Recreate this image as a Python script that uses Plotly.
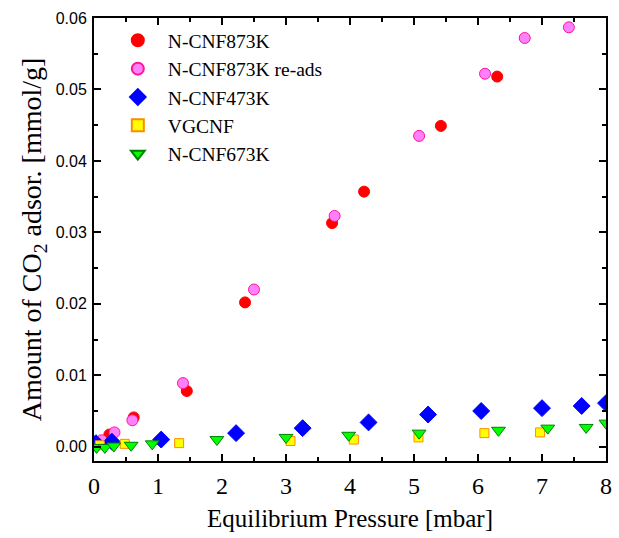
import plotly.graph_objects as go

# N-CNF873K
red_x = [0.24, 0.62, 1.45, 2.36, 3.72, 4.22, 5.42, 6.30]
red_y = [0.0017, 0.0041, 0.0078, 0.0202, 0.0313, 0.0357, 0.0449, 0.0518]
# N-CNF873K re-ads
pink_x = [0.12, 0.32, 0.60, 1.39, 2.50, 3.76, 5.08, 6.11, 6.73, 7.42]
pink_y = [0.0009, 0.0020, 0.0037, 0.0089, 0.0220, 0.0323, 0.0435, 0.0522, 0.0572, 0.0587]
# N-CNF473K
blue_x = [0.03, 0.28, 1.05, 2.22, 3.26, 4.29, 5.22, 6.05, 7.00, 7.62, 8.00]
blue_y = [0.0005, 0.0007, 0.0010, 0.0019, 0.0026, 0.0034, 0.0045, 0.0050, 0.0054, 0.0057, 0.0061]
# VGCNF
yel_x = [0.09, 0.48, 1.33, 3.07, 4.06, 5.07, 6.10, 6.97]
yel_y = [0.0002, 0.0004, 0.0005, 0.0008, 0.0010, 0.0013, 0.0019, 0.0020]
# N-CNF673K
grn_x = [0.04, 0.17, 0.31, 0.58, 0.91, 1.92, 3.00, 3.98, 5.08, 6.32, 7.09, 7.69, 8.00]
grn_y = [-0.0001, -0.0001, 0.0001, 0.0002, 0.0004, 0.0010, 0.0013, 0.0016, 0.0019, 0.0023, 0.0026, 0.0027, 0.0033]

x_ticks = [0, 1, 2, 3, 4, 5, 6, 7, 8]
y_ticks = [0.00, 0.01, 0.02, 0.03, 0.04, 0.05, 0.06]

serif = "Liberation Serif"
sans = "Liberation Sans"

fig = go.Figure()
fig.add_trace(go.Scatter(x=red_x, y=red_y, mode="markers", name="N-CNF873K",
                         marker=dict(symbol="circle", size=11, color="#ff0000",
                                     line=dict(color="#ff0000", width=1))))
fig.add_trace(go.Scatter(x=pink_x, y=pink_y, mode="markers", name="N-CNF873K re-ads",
                         marker=dict(symbol="circle", size=11, color="#ff80ff",
                                     line=dict(color="#ff1493", width=1))))
fig.add_trace(go.Scatter(x=blue_x, y=blue_y, mode="markers", name="N-CNF473K",
                         marker=dict(symbol="diamond", size=13, color="#0000ff",
                                     line=dict(color="#0000ff", width=1))))
fig.add_trace(go.Scatter(x=yel_x, y=yel_y, mode="markers", name="VGCNF",
                         marker=dict(symbol="square", size=9, color="#ffff00",
                                     line=dict(color="#ff8c00", width=1))))
fig.add_trace(go.Scatter(x=grn_x, y=grn_y, mode="markers", name="N-CNF673K",
                         marker=dict(symbol="triangle-down", size=12, color="#00ff00",
                                     line=dict(color="#008000", width=1))))

fig.update_layout(
    width=619, height=538,
    margin=dict(l=94, r=7, t=18, b=77),
    plot_bgcolor="white", paper_bgcolor="white",
    font=dict(family=serif, color="black"),
    showlegend=True,
    legend=dict(x=0.027, y=0.993, xanchor="left", yanchor="top",
                font=dict(family=serif, size=19.5, color="black"),
                bgcolor="rgba(0,0,0,0)", itemsizing="constant", itemwidth=50,
                tracegroupgap=0),
    xaxis=dict(range=[0, 8], tickvals=x_ticks, ticktext=[str(v) for v in x_ticks],
               showgrid=False, zeroline=False, showline=True, linecolor="black", linewidth=2,
               mirror="ticks", ticks="inside", ticklen=7, tickwidth=1.5, tickcolor="black",
               minor=dict(dtick=0.5, ticks="inside", ticklen=4, tickcolor="black", tickwidth=1.5),
               tickfont=dict(family=serif, size=24, color="black"),
               ticklabelstandoff=2,
               title=dict(text="Equilibrium Pressure [mbar]",
                          font=dict(family=serif, size=25, color="black"), standoff=12)),
    yaxis=dict(range=[-0.002, 0.06], tickvals=y_ticks, ticktext=["%.2f" % v for v in y_ticks],
               showgrid=False, zeroline=False, showline=True, linecolor="black", linewidth=2,
               mirror="ticks", ticks="inside", ticklen=7, tickwidth=1.5, tickcolor="black",
               minor=dict(dtick=0.005, tick0=0, ticks="inside", ticklen=4, tickcolor="black", tickwidth=1.5),
               tickfont=dict(family=sans, size=16, color="black"),
               ticklabelstandoff=2,
               title=dict(text="Amount of CO<sub>2</sub> adsor. [mmol/g]",
                          font=dict(family=serif, size=28, color="black"), standoff=6)),
)

fig.write_html("out.html")
